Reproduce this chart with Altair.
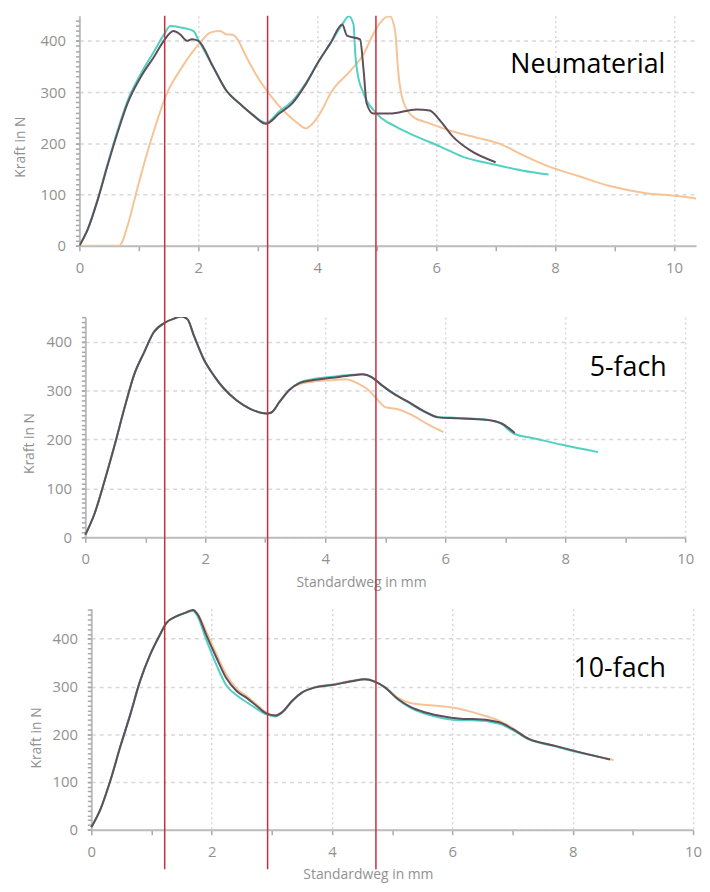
import altair as alt
import pandas as pd

# ---------------- data (Standardweg in mm, Kraft in N) ----------------
SERIES = ["Probe C", "Probe A", "Probe B"]          # drawn in this order: orange, teal, dark
COLORS = ["#f6c396", "#52d0c2", "#5e4f5b"]

# Panel 1: Neumaterial
p1_orange_mm = [0, 0.67, 0.81, 0.97, 1.14, 1.31, 1.47, 1.69, 1.92, 2.03, 2.2, 2.36, 2.47, 2.58, 2.64,
                2.81, 3.03, 3.19, 3.42, 3.64, 3.81, 3.97, 4.08, 4.22, 4.56, 4.78, 4.94, 5.14, 5.22,
                5.31, 5.36, 5.44, 5.61, 5.89, 6.28, 6.72, 7.11, 7.44, 7.89, 8.39, 8.94, 9.5, 10.06, 10.5]
p1_orange_kn = [0, 0, 39, 110, 181, 245, 297, 342, 381, 396, 416, 419, 413, 412, 406,
                368, 323, 297, 265, 242, 229, 245, 265, 297, 342, 374, 413, 445, 448,
                419, 342, 284, 252, 239, 223, 210, 197, 178, 155, 136, 116, 103, 97, 90]
p1_teal_mm = [0, 0.14, 0.31, 0.47, 0.64, 0.81, 1.03, 1.25, 1.42, 1.53, 1.75, 1.92, 2.0, 2.25, 2.47,
              2.69, 2.92, 3.14, 3.36, 3.58, 3.81, 4.03, 4.22, 4.42, 4.53, 4.61, 4.64, 4.67, 4.78,
              5.0, 5.33, 5.67, 6.06, 6.44, 7.0, 7.44, 7.89]
p1_teal_kn = [0, 32, 92, 158, 224, 283, 335, 378, 412, 429, 425, 419, 402, 349, 303,
              278, 255, 240, 262, 282, 318, 361, 395, 432, 448, 432, 374, 342, 297,
              258, 232, 213, 194, 174, 158, 147, 139]
p1_dark_mm = [0, 0.14, 0.31, 0.47, 0.64, 0.81, 1.03, 1.25, 1.42, 1.58, 1.69, 1.81, 1.89, 2.0, 2.25,
              2.47, 2.69, 2.92, 3.14, 3.36, 3.58, 3.81, 4.03, 4.22, 4.42, 4.5, 4.72, 4.78, 4.83,
              4.94, 5.22, 5.67, 5.89, 6.06, 6.28, 6.56, 7.0]
p1_dark_kn = [0, 32, 90, 155, 220, 278, 329, 368, 400, 419, 413, 400, 403, 400, 349,
              303, 278, 255, 238, 258, 278, 316, 361, 395, 432, 410, 403, 342, 278,
              258, 258, 266, 264, 245, 213, 187, 163]

# Panel 2: 5-fach
p2_orange_mm = [0, 0.15, 0.32, 0.49, 0.65, 0.81, 0.98, 1.14, 1.33, 1.48, 1.59, 1.70, 1.81, 1.97, 2.14,
                2.31, 2.52, 2.74, 3.02, 3.1, 3.24, 3.40, 3.57, 3.79, 4.12, 4.34, 4.55, 4.72, 4.88,
                5.0, 5.2, 5.44, 5.72, 5.97]
p2_orange_kn = [5, 47, 115, 189, 263, 331, 378, 419, 439, 447, 451, 446, 412, 365, 331,
                304, 280, 263, 253, 255, 277, 301, 313, 318, 321, 323, 314, 301, 280,
                266, 262, 250, 230, 215]
p2_teal_mm = [0, 0.15, 0.32, 0.49, 0.65, 0.81, 0.98, 1.14, 1.33, 1.48, 1.59, 1.70, 1.81, 1.97, 2.14,
              2.31, 2.52, 2.74, 3.02, 3.1, 3.24, 3.40, 3.57, 3.79, 4.12, 4.45, 4.62, 4.78, 4.94,
              5.17, 5.38, 5.66, 5.88, 6.2, 6.68, 6.95, 7.06, 7.16, 7.45, 7.95, 8.55]
p2_teal_kn = [5, 47, 115, 189, 263, 331, 378, 419, 439, 447, 451, 446, 412, 365, 331,
              304, 280, 263, 253, 255, 277, 301, 316, 323, 328, 332, 333, 327, 311,
              292, 276, 256, 246, 244, 240, 231, 219, 211, 203, 189, 174]
p2_dark_mm = [0, 0.15, 0.32, 0.49, 0.65, 0.81, 0.98, 1.14, 1.33, 1.48, 1.59, 1.70, 1.81, 1.97, 2.14,
              2.31, 2.52, 2.74, 3.02, 3.1, 3.24, 3.40, 3.57, 3.79, 4.12, 4.45, 4.62, 4.78, 4.94,
              5.17, 5.38, 5.66, 5.88, 6.2, 6.68, 6.95, 7.06, 7.16]
p2_dark_kn = [5, 47, 115, 189, 263, 331, 378, 419, 439, 447, 451, 446, 412, 365, 331,
              304, 280, 263, 253, 255, 277, 301, 315, 321, 326, 331, 333, 327, 311,
              291, 277, 257, 245, 243, 240, 232, 223, 213]

# Panel 3: 10-fach
p3_orange_mm = [0, 0.15, 0.32, 0.48, 0.65, 0.81, 0.98, 1.14, 1.25, 1.42, 1.58, 1.69, 1.77, 1.91, 2.08,
                2.24, 2.41, 2.57, 2.74, 2.90, 3.06, 3.17, 3.34, 3.50, 3.72, 4.0, 4.33, 4.55, 4.71,
                4.88, 5.10, 5.29, 5.68, 6.0, 6.45, 6.78, 7.0, 7.27, 7.66, 8.09, 8.68]
p3_orange_kn = [5, 42, 104, 173, 242, 311, 367, 408, 433, 447, 455, 460, 452, 415, 368,
                326, 296, 281, 263, 246, 239, 246, 270, 287, 299, 304, 312, 315, 310,
                298, 276, 266, 260, 256, 242, 228, 213, 190, 177, 163, 146]
p3_teal_mm = [0, 0.15, 0.32, 0.48, 0.65, 0.81, 0.98, 1.14, 1.25, 1.42, 1.58, 1.69, 1.77, 1.91, 2.08,
              2.24, 2.41, 2.57, 2.74, 2.90, 3.06, 3.17, 3.34, 3.50, 3.72, 4.0, 4.33, 4.55, 4.71,
              4.88, 5.10, 5.32, 5.54, 5.86, 6.19, 6.34, 6.78, 7.0, 7.27, 7.66, 8.09, 8.45]
p3_teal_kn = [5, 42, 104, 173, 242, 311, 367, 408, 433, 447, 455, 458, 446, 398, 345,
              303, 282, 268, 254, 242, 237, 245, 270, 287, 298, 303, 311, 315, 310,
              298, 272, 254, 243, 233, 229, 229, 222, 209, 189, 176, 162, 152]
p3_dark_mm = [0, 0.15, 0.32, 0.48, 0.65, 0.81, 0.98, 1.14, 1.25, 1.42, 1.58, 1.69, 1.77, 1.91, 2.08,
              2.24, 2.41, 2.57, 2.74, 2.90, 3.06, 3.17, 3.34, 3.50, 3.72, 4.0, 4.33, 4.55, 4.71,
              4.88, 5.10, 5.32, 5.54, 5.86, 6.19, 6.34, 6.78, 7.0, 7.27, 7.66, 8.09, 8.62]
p3_dark_kn = [5, 42, 104, 173, 242, 311, 367, 408, 433, 447, 455, 460, 450, 408, 360,
              318, 291, 277, 260, 244, 239, 246, 270, 287, 298, 303, 311, 315, 310,
              298, 273, 256, 246, 237, 232, 232, 225, 211, 190, 177, 163, 147]

# panel captions (position in each panel's own units)
panel_names = ["Neumaterial", "5-fach", "10-fach"]
label_mm = [8.55, 9.05, 8.78]
label_kn = [352, 346, 336]

# red vertical markers (in panel-3 units, drawn through all three panels)
marker_mm = [1.22, 2.93, 4.73]

x_ticks = list(range(0, 11))
y_major = [0, 100, 200, 300, 400]


def curves(orange, teal, dark):
    rows = []
    for name, (xs, ys) in zip(SERIES, [orange, teal, dark]):
        for i, (x, y) in enumerate(zip(xs, ys)):
            rows.append({"mm": x, "kn": y, "probe": name, "i": i})
    return pd.DataFrame(rows)


W = 622


def panel(df, k, xdom, xrange, ytop, height, yoff, ytx, yty, xtitle=None, xtx=0, xty=0, extra=None):
    xscale = alt.Scale(domain=xdom, range=xrange, nice=False, zero=False)
    yscale = alt.Scale(domain=[0, ytop], nice=False)
    xkw = dict(
        values=x_ticks,
        format="d",
        labelExpr="datum.value % 2 === 0 ? datum.label : ''",
        gridOpacity={"condition": {"test": "datum.value % 2 === 0 && datum.value > 0", "value": 1}, "value": 0},
        gridDash=[2, 3],
        tickSize=5,
        labelPadding=10,
        labelFlush=False,
        labelOverlap=False,
    )
    if xtitle:
        xkw.update(title=xtitle, titleX=xtx, titleY=xty, titleAlign="center", titleBaseline="middle")
    else:
        xkw.update(title=None)
    yaxis = alt.Axis(
        title="Kraft in N",
        titleX=ytx, titleY=yty, titleAngle=270, titleAlign="center", titleBaseline="middle",
        values=y_major,
        format="d",
        gridDash=[4, 4],
        tickSize=4,
        labelPadding=10,
        labelFlush=False,
        labelOverlap=False,
        offset=-yoff,
        orient="left",
    )
    minor_axis = alt.Axis(
        title=None,
        values=list(range(0, int(ytop) + 1, 10)),
        labels=False,
        grid=False,
        domain=False,
        ticks=True,
        tickSize=4,
        offset=-yoff,
        orient="left",
    )
    lines = alt.Chart(df).mark_line(strokeWidth=2, interpolate="monotone", clip=True).encode(
        x=alt.X("mm:Q", scale=xscale, axis=alt.Axis(**xkw)),
        y=alt.Y("kn:Q", scale=yscale, axis=yaxis),
        color=alt.Color("probe:N", scale=alt.Scale(domain=SERIES, range=COLORS), legend=None),
        order="i:Q",
        detail="probe:N",
    )
    lab = alt.Chart(pd.DataFrame({"mm": [label_mm[k]], "kn": [label_kn[k]], "t": [panel_names[k]]})).mark_text(
        font="Open Sans", fontSize=27, color="black", align="center", baseline="middle"
    ).encode(x="mm:Q", y=alt.Y("kn:Q", axis=minor_axis), text="t:N")
    layers = [lines, lab]
    if extra is not None:
        layers.append(extra)
    return alt.layer(*layers).resolve_axis(y="independent").properties(width=W, height=height)


red = alt.Chart(pd.DataFrame({"mm": marker_mm})).mark_rule(color="#c5303e", strokeWidth=1.5).encode(
    x="mm:Q", y=alt.value(-598), y2=alt.value(263)
)

p1 = panel(curves((p1_orange_mm, p1_orange_kn), (p1_teal_mm, p1_teal_kn), (p1_dark_mm, p1_dark_kn)),
           0, [0, 10.37], [0, W], 449, 232, 0, -59, 132)
p2 = panel(curves((p2_orange_mm, p2_orange_kn), (p2_teal_mm, p2_teal_kn), (p2_dark_mm, p2_dark_kn)),
           1, [0, 10], [6, 611], 450, 222, 6, -56, 127, "Standardweg in mm", 284, 46)
p3 = panel(curves((p3_orange_mm, p3_orange_kn), (p3_teal_mm, p3_teal_kn), (p3_dark_mm, p3_dark_kn)),
           2, [0, 10], [12, 619], 463, 223, 12, -55, 130, "Standardweg in mm", 291, 45, extra=red)

chart = alt.vconcat(p1, p2, p3, spacing=72, bounds="flush").properties(
    padding={"left": 6, "top": 3, "right": 0, "bottom": 0},
    background="white",
).configure_view(stroke=None).configure_axis(
    domainColor="#bdbdbd", domainWidth=2, tickColor="#a8a8a8", tickWidth=1.5,
    labelColor="#919191", titleColor="#919191", labelFont="Open Sans", titleFont="Open Sans",
    labelFontSize=15, titleFontSize=14, titleFontWeight="normal",
    gridColor="#d8d8d8", gridWidth=1.5,
)

chart.save("out.html", embed_options={"renderer": "svg", "actions": False})
